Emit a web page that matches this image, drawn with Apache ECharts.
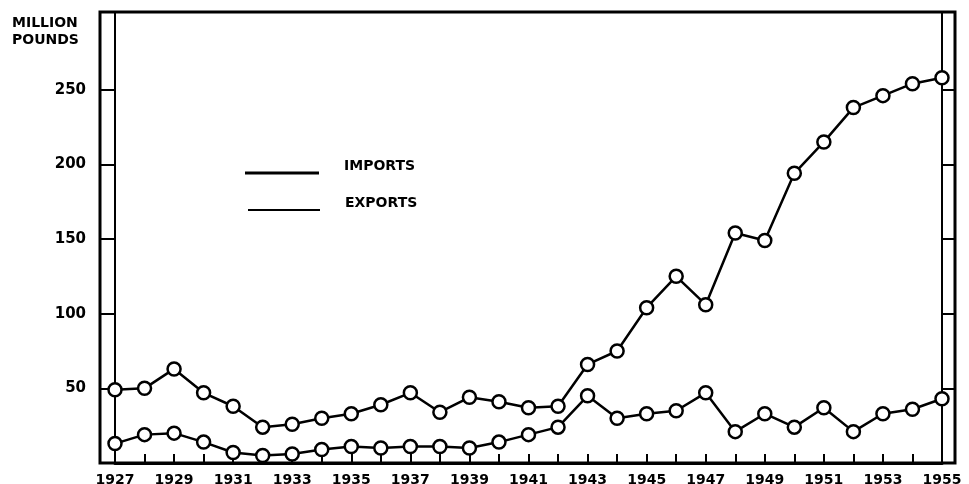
<!DOCTYPE html>
<html>
<head>
<meta charset="utf-8">
<script src="https://cdn.jsdelivr.net/npm/echarts@6/dist/echarts.min.js"></script>
<style>
  html, body { margin: 0; padding: 0; background: #fff; }
  #chart { width: 969px; height: 484px; }
</style>
</head>
<body>
<div id="chart"></div>
<script>
// 年份与数据（百万磅）
var years = ['1927','1928','1929','1930','1931','1932','1933','1934','1935','1936',
             '1937','1938','1939','1940','1941','1942','1943','1944','1945','1946',
             '1947','1948','1949','1950','1951','1952','1953','1954','1955'];
var imports = [49, 50, 63, 47, 38, 24, 26, 30, 33, 39,
               47, 34, 44, 41, 37, 38, 66, 75, 104, 125,
               106, 154, 149, 194, 215, 238, 246, 254, 258];
var exports = [13, 19, 20, 14, 7, 5, 6, 9, 11, 10,
               11, 11, 10, 14, 19, 24, 45, 30, 33, 35,
               47, 21, 33, 24, 37, 21, 33, 36, 43];
var yTicks = [50, 100, 150, 200, 250];

var font = 'DejaVu Sans';
var chart = echarts.init(document.getElementById('chart'));

// 图例文字比线条高一点
var legendText = {
    fontFamily: font, fontWeight: 'bold', fontSize: 13, color: '#000',
    padding: [0, 0, 0, 20],
    rich: { t: { fontFamily: font, fontWeight: 'bold', fontSize: 14, color: '#000', padding: [0, 0, 14, 0] } }
};

var option = {
    backgroundColor: '#fff',
    animation: false,
    title: {
        text: 'MILLION\nPOUNDS',
        left: 12,
        top: 15,
        padding: 0,
        textStyle: { fontFamily: font, fontWeight: 'bold', fontSize: 14, color: '#000', lineHeight: 17 }
    },
    legend: [
        {
            data: [{ name: 'IMPORTS', icon: 'rect' }],
            left: 245, top: 159,
            padding: 0,
            itemWidth: 74, itemHeight: 3,
            formatter: '{t|{name}}',
            textStyle: legendText
        },
        {
            data: [{ name: 'EXPORTS', icon: 'rect' }],
            left: 248, top: 196,
            padding: 0,
            itemWidth: 72, itemHeight: 2,
            formatter: '{t|{name}}',
            textStyle: legendText
        }
    ],
    grid: [
        { left: 115, right: 27, top: 12, bottom: 21, show: false, outerBoundsMode: 'none' },
        // 外框
        { left: 100, right: 14, top: 12, bottom: 21, show: true, borderColor: '#000', borderWidth: 3,
          backgroundColor: 'transparent', outerBoundsMode: 'none' }
    ],
    xAxis: [
        {
            type: 'category',
            data: years,
            boundaryGap: false,
            axisLine: { lineStyle: { color: '#000', width: 3 } },
            axisTick: { inside: true, length: 9, interval: 0, lineStyle: { color: '#000', width: 2 } },
            axisLabel: { interval: 1, margin: 10, color: '#000', fontFamily: font, fontWeight: 'bold', fontSize: 14 },
            splitLine: { show: false }
        },
        { gridIndex: 1, type: 'value', show: false }
    ],
    yAxis: [
        {
            type: 'value',
            min: 0, max: 302,
            axisLine: { show: true, lineStyle: { color: '#000', width: 2 } },
            axisTick: { show: true, length: 15, customValues: yTicks, lineStyle: { color: '#000', width: 2 } },
            axisLabel: { customValues: yTicks, margin: 29, color: '#000', fontFamily: font, fontWeight: 'bold', fontSize: 15 },
            splitLine: { show: false }
        },
        {
            type: 'value',
            position: 'right',
            min: 0, max: 302,
            axisLine: { show: true, lineStyle: { color: '#000', width: 2 } },
            axisTick: { show: true, length: 13, customValues: yTicks, lineStyle: { color: '#000', width: 2 } },
            axisLabel: { show: false },
            splitLine: { show: false }
        },
        { gridIndex: 1, type: 'value', show: false }
    ],
    series: [
        {
            name: 'IMPORTS',
            type: 'line',
            data: imports,
            symbol: 'circle',
            symbolSize: 13,
            lineStyle: { color: '#000', width: 2.5 },
            itemStyle: { color: '#fff', borderColor: '#000', borderWidth: 2.5 },
            z: 3
        },
        {
            name: 'EXPORTS',
            type: 'line',
            data: exports,
            symbol: 'circle',
            symbolSize: 13,
            lineStyle: { color: '#000', width: 2.5 },
            itemStyle: { color: '#fff', borderColor: '#000', borderWidth: 2.5 },
            z: 3
        }
    ]
};
// legend 图标统一用黑色
option.legend[0].data[0].itemStyle = { color: '#000', borderWidth: 0 };
option.legend[1].data[0].itemStyle = { color: '#000', borderWidth: 0 };

chart.setOption(option);
</script>
</body>
</html>
